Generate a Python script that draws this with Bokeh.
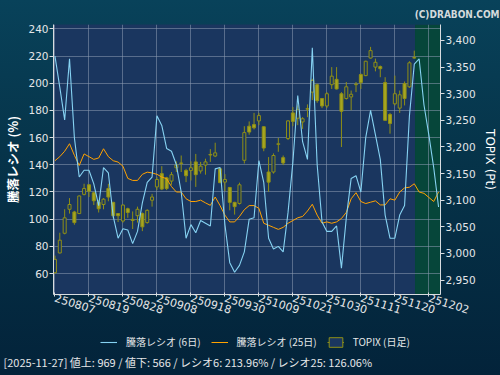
from bokeh.plotting import figure
from bokeh.layouts import column
from bokeh.models import (Range1d, LinearAxis, FixedTicker, NumeralTickFormatter, BoxAnnotation,
                          Legend, LegendItem, ColumnDataSource, Title)
from bokeh.embed import file_html
from bokeh.resources import INLINE

# ---------------- data ----------------
tick_idx = [0, 7, 14, 21, 28, 35, 42, 49, 56, 63, 70, 77]
tick_labels = ["250807", "250819", "250828", "250908", "250918", "250930",
               "251009", "251021", "251030", "251111", "251120", "251202"]

opens = [2964, 3001, 3038, 3083, 3078, 3075, 3111, 3129, 3114, 3096,
         3092, 3122, 3096, 3075, 3061, 3084, 3064, 3071, 3075, 3058,
         3100, 3125, 3150, 3142, 3136, 3161, 3169, 3156, 3156, 3172,
         3155, 3166, 3185, 3183, 3159, 3134, 3124, 3096, 3094, 3175,
         3239, 3242, 3249, 3238, 3153, 3153, 3205, 3180, 3216, 3264,
         3254, 3247, 3271, 3303, 3317, 3291, 3277, 3317, 3327, 3300,
         3291, 3294, 3317, 3336, 3334, 3367, 3350, 3351, 3321, 3261,
         3281, 3273, 3319, 3313, 3367]
highs = [2996, 3039, 3083, 3104, 3080, 3109, 3131, 3130, 3116, 3100,
         3104, 3131, 3097, 3076, 3092, 3086, 3079, 3088, 3077, 3083,
         3112, 3144, 3164, 3144, 3153, 3173, 3184, 3159, 3173, 3187,
         3172, 3178, 3196, 3208, 3161, 3149, 3125, 3097, 3133, 3239,
         3248, 3264, 3264, 3239, 3181, 3188, 3217, 3184, 3250, 3275,
         3278, 3256, 3280, 3328, 3319, 3292, 3303, 3350, 3350, 3303,
         3322, 3306, 3322, 3338, 3362, 3388, 3366, 3353, 3331, 3264,
         3334, 3306, 3323, 3361, 3381]
lows = [2962, 3000, 3036, 3075, 3054, 3074, 3109, 3106, 3091, 3077,
        3083, 3098, 3066, 3059, 3058, 3067, 3046, 3058, 3042, 3056,
        3088, 3119, 3119, 3119, 3129, 3153, 3153, 3134, 3137, 3125,
        3150, 3148, 3172, 3181, 3132, 3117, 3081, 3073, 3092, 3169,
        3223, 3233, 3241, 3192, 3116, 3150, 3191, 3166, 3213, 3239,
        3241, 3234, 3256, 3288, 3283, 3273, 3273, 3309, 3308, 3200,
        3289, 3269, 3303, 3309, 3333, 3366, 3342, 3331, 3250, 3225,
        3278, 3264, 3278, 3311, 3366]
closes = [2989, 3025, 3067, 3092, 3058, 3108, 3122, 3117, 3099, 3084,
          3102, 3106, 3071, 3071, 3091, 3077, 3062, 3083, 3050, 3081,
          3106, 3139, 3121, 3122, 3148, 3166, 3170, 3146, 3161, 3148,
          3164, 3172, 3186, 3189, 3133, 3139, 3096, 3088, 3129, 3227,
          3228, 3236, 3259, 3198, 3134, 3184, 3206, 3170, 3249, 3248,
          3270, 3253, 3272, 3325, 3287, 3277, 3300, 3333, 3309, 3267,
          3313, 3299, 3318, 3321, 3361, 3381, 3359, 3347, 3250, 3244,
          3300, 3298, 3291, 3358, 3368]

ratio6 = [220, 197, 173, 218, 160, 131, 136, 136, 126, 110,
          138, 134, 102, 86, 93, 92, 82, 91, 112, 127,
          131, 176, 169, 152, 150, 140, 120, 86, 96, 90,
          99, 97, 95, 137, 138, 96, 68, 61, 66, 76,
          100, 101, 143, 127, 86, 78, 80, 76, 105, 142,
          191, 157, 144, 226, 140, 98, 91, 91, 95, 64,
          101, 130, 132, 120, 160, 180, 162, 144, 103, 86,
          86, 103, 110, 176, 214, 218, 184, 162, 138, 109]
ratio25 = [143, 146, 150, 155.5, 147, 139.5, 148, 146, 144, 145,
           151.8, 146, 143, 142, 139, 130, 128.5, 128.5, 133, 134.6,
           134, 133, 131, 129.8, 124, 120, 120, 115, 113, 113,
           114, 112, 110.2, 116.3, 110, 103, 98, 98, 102, 107,
           110, 110, 108, 97, 95.5, 94, 92.5, 94, 97, 99,
           101, 102, 106, 111, 103, 97, 98, 97, 98, 100.5,
           105, 115, 119.5, 113, 111.5, 112.5, 113.5, 110.5, 110.5, 115,
           114, 120, 123, 123.5, 126.06, 120, 119, 116, 113, 120]

last_date = "2025-11-27"
advances = 969
declines = 566
last_r6 = 213.96
last_r25 = 126.06

left_ticks = [60, 80, 100, 120, 140, 160, 180, 200, 220, 240]
right_ticks = [2950, 3000, 3050, 3100, 3150, 3200, 3250, 3300, 3350, 3400]

# ---------------- style ----------------
JP = "Noto Sans CJK JP"
LAT = "DejaVu Sans"
C6 = "#86d2f2"
C25 = "#ffa200"
OLIVE = "#a6a620"
OLIVE_L = "#8f8f16"
TXT = "#e4e6e8"
PLOT_BG = "#1a365f"
NAN = float("nan")

n = len(opens)
xs = list(range(n))
lx = list(range(len(ratio6)))

# ---------------- main chart ----------------
p = figure(width=500, height=320, output_backend="svg", toolbar_location=None,
           x_range=Range1d(-0.3, 79.4), y_range=Range1d(44.6, 243.2),
           min_border_left=0, min_border_right=0, min_border_top=24, min_border_bottom=0)
p.extra_y_ranges = {"topix": Range1d(2923, 3430)}
p.border_fill_color = None
p.background_fill_color = PLOT_BG
p.outline_line_color = None

# green "current" zone after the last session
p.add_layout(BoxAnnotation(left=n - 1 + 0.15, fill_color="#06463a", fill_alpha=1.0,
                           line_color=None, level="image"))

p.xgrid.ticker = FixedTicker(ticks=tick_idx)
p.ygrid.ticker = FixedTicker(ticks=left_ticks)
for g in (p.xgrid, p.ygrid):
    g.grid_line_color = "#8c9ab0"
    g.grid_line_alpha = 0.55
    g.grid_line_width = 1

up = [c >= o for o, c in zip(opens, closes)]
src = ColumnDataSource(dict(
    x=xs, hi=highs, lo=lows,
    top=[max(o, c) for o, c in zip(opens, closes)],
    bot=[min(o, c) for o, c in zip(opens, closes)],
    fill=[PLOT_BG if u else OLIVE for u in up],
))
p.segment(x0="x", y0="lo", x1="x", y1="hi", source=src, y_range_name="topix",
          line_color=OLIVE_L, line_width=1)
p.vbar(x="x", top="top", bottom="bot", width=0.62, source=src, y_range_name="topix",
       fill_color="fill", line_color=OLIVE_L, line_width=1)

p.line(lx, ratio25, line_color=C25, line_width=1)
p.line(lx, ratio6, line_color=C6, line_width=1.1)

xa = p.xaxis[0]
xa.ticker = FixedTicker(ticks=tick_idx)
xa.major_label_overrides = {t: s for t, s in zip(tick_idx, tick_labels)}
xa.major_label_orientation = -0.3
xa.major_label_text_font = LAT
xa.major_label_text_font_size = "11px"
xa.major_label_text_color = TXT
xa.major_label_standoff = 1
xa.axis_line_color = "#d8dce0"
xa.major_tick_line_color = "#d8dce0"
xa.major_tick_in = 2
xa.major_tick_out = 2
xa.minor_tick_line_color = None

ya = p.yaxis[0]
ya.ticker = FixedTicker(ticks=left_ticks)
ya.axis_label = "騰落レシオ (%)"
ya.axis_label_text_font = JP
ya.axis_label_text_font_size = "12.5px"
ya.axis_label_text_font_style = "bold"
ya.axis_label_text_color = "#ffffff"
ya.axis_label_standoff = 3
ya.major_label_text_font = LAT
ya.major_label_text_font_size = "10.5px"
ya.major_label_text_color = TXT
ya.major_label_standoff = 1
ya.axis_line_color = "#d8dce0"
ya.major_tick_line_color = "#d8dce0"
ya.major_tick_in = 0
ya.major_tick_out = 4
ya.minor_tick_line_color = None

ra = LinearAxis(y_range_name="topix", ticker=FixedTicker(ticks=right_ticks),
                formatter=NumeralTickFormatter(format="0,0"))
ra.axis_label = "TOPIX (Pt)"
ra.axis_label_text_font = LAT
ra.axis_label_text_font_size = "12px"
ra.axis_label_text_font_style = "normal"
ra.axis_label_text_color = "#ffffff"
ra.axis_label_standoff = 4
ra.major_label_text_font = LAT
ra.major_label_text_font_size = "10.5px"
ra.major_label_text_color = TXT
ra.major_label_standoff = 1
ra.axis_line_color = "#d8dce0"
ra.major_tick_line_color = "#d8dce0"
ra.major_tick_in = 0
ra.major_tick_out = 4
ra.minor_tick_line_color = None
p.add_layout(ra, "right")

p.title.text = "(C)DRABON.COM"
p.title.align = "right"
p.title.offset = -59
p.title.text_font = "DejaVu Sans Condensed"
p.title.text_font_size = "10px"
p.title.text_font_style = "bold"
p.title.text_color = "#d4dadc"
p.title.standoff = 10

# ---------------- legend + status strip ----------------
q = figure(width=500, height=55, output_backend="svg", toolbar_location=None,
           x_range=Range1d(0, 1), y_range=Range1d(0, 1),
           x_axis_type=None, y_axis_type=None,
           min_border_left=53, min_border_right=60, min_border_top=0, min_border_bottom=24)
q.border_fill_color = None
q.background_fill_color = None
q.outline_line_color = None
q.xgrid.visible = False
q.ygrid.visible = False

# legend swatches (no visible data)
k6 = q.line(x=[NAN], y=[NAN], line_color=C6, line_width=1.1)
k25 = q.line(x=[NAN], y=[NAN], line_color=C25, line_width=1)
kw = q.segment(x0=[NAN], y0=[NAN], x1=[NAN], y1=[NAN], line_color=OLIVE_L, line_width=1)
kb = q.vbar(x=[NAN], top=[NAN], bottom=[NAN], width=0.5, fill_color=PLOT_BG, line_color=OLIVE_L)

legend = Legend(items=[
    LegendItem(label="騰落レシオ (6日)", renderers=[k6]),
    LegendItem(label="騰落レシオ (25日)", renderers=[k25]),
    LegendItem(label="TOPIX (日足)", renderers=[kw, kb]),
], orientation="horizontal", location=(45, 0),
    label_text_font=JP, label_text_font_size="10px", label_text_color=TXT,
    background_fill_alpha=0, border_line_alpha=0, glyph_width=17, glyph_height=12,
    spacing=10, label_standoff=9, margin=0, padding=2)
q.add_layout(legend)

q.add_layout(Title(text=f"[{last_date}]  値上: {advances} / 値下: {declines} / レシオ6: {last_r6:.2f}% / レシオ25: {last_r25:.2f}%",
                   align="left", offset=-50, standoff=0, text_font=JP, text_font_size="11px",
                   text_font_style="normal", text_color=TXT), "below")

page = column(p, q, spacing=0,
              styles={"background": "linear-gradient(180deg, #08425a 0%, #06344a 40%, #03233a 100%)"})

open("out.html", "w").write(file_html(page, INLINE))
